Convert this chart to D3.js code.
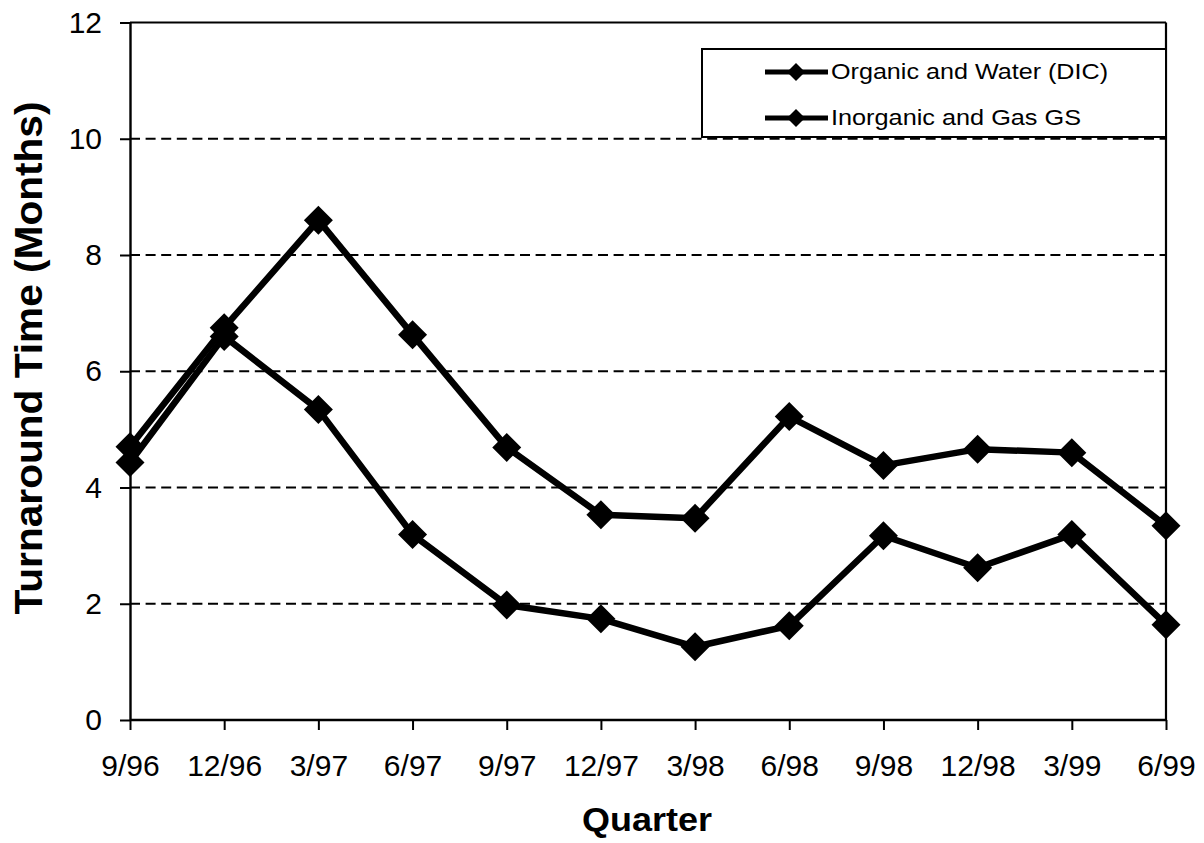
<!DOCTYPE html>
<html>
<head>
<meta charset="utf-8">
<script src="https://cdn.jsdelivr.net/npm/d3@7"></script>
<style>
  html, body { margin: 0; padding: 0; background: #fff; }
  svg { display: block; }
  text { font-family: Arial, "Liberation Sans", sans-serif; fill: #000; }
</style>
</head>
<body>
<svg id="chart" width="1204" height="843"></svg>
<script>
const quarters = ["9/96","12/96","3/97","6/97","9/97","12/97","3/98","6/98","9/98","12/98","3/99","6/99"];
const organicWater = [4.7, 6.75, 8.6, 6.63, 4.69, 3.53, 3.47, 5.22, 4.38, 4.66, 4.6, 3.34];
const inorganicGas = [4.43, 6.6, 5.34, 3.19, 1.98, 1.74, 1.26, 1.62, 3.17, 2.62, 3.19, 1.64];
const seriesNames = ["Organic and Water (DIC)", "Inorganic and Gas GS"];
const yTicks = [0, 2, 4, 6, 8, 10, 12];
const gridTicks = [2, 4, 6, 8, 10];

(function () {
const svg = d3.select("#chart");
const pLeft = 130, pRight = 1166, pTop = 22.5, pBottom = 720;

const x = d3.scalePoint().domain(quarters).range([pLeft, pRight]);
const y = d3.scaleLinear().domain([0, 12]).range([pBottom, pTop]);

// gridlines
svg.append("g").selectAll("line").data(gridTicks).join("line")
  .attr("x1", pLeft).attr("x2", pRight)
  .attr("y1", d => y(d)).attr("y2", d => y(d))
  .attr("stroke", "#000").attr("stroke-width", 2)
  .attr("stroke-dasharray", "10,5.6");

// frame top & right
svg.append("line").attr("x1", pLeft).attr("x2", pRight).attr("y1", y(12)).attr("y2", y(12))
  .attr("stroke", "#000").attr("stroke-width", 2.2);
svg.append("line").attr("x1", pRight).attr("x2", pRight).attr("y1", y(12)).attr("y2", pBottom)
  .attr("stroke", "#000").attr("stroke-width", 2.2);

// y axis
const yAxis = svg.append("g").attr("transform", `translate(${pLeft},0)`)
  .call(d3.axisLeft(y).tickValues(yTicks).tickSize(10).tickSizeOuter(0).tickPadding(18).tickFormat(d3.format("d")));
yAxis.select(".domain").attr("stroke-width", 2.4);
yAxis.selectAll(".tick line").attr("stroke-width", 2);
yAxis.selectAll("text").style("font-size", "30px").attr("font-family", null);

// x axis
const xAxis = svg.append("g").attr("transform", `translate(0,${pBottom})`)
  .call(d3.axisBottom(x).tickSize(10).tickSizeOuter(0).tickPadding(24.5));
xAxis.select(".domain").attr("stroke-width", 2.6).attr("d", `M${pLeft},0H${pRight}`);
xAxis.selectAll(".tick line").attr("stroke-width", 2);
xAxis.selectAll("text").style("font-size", "30px").attr("font-family", null);

// axis titles
svg.append("text")
  .attr("transform", `translate(42,358) rotate(-90)`)
  .attr("text-anchor", "middle")
  .attr("textLength", 513).attr("lengthAdjust", "spacingAndGlyphs")
  .style("font-size", "38px").style("font-weight", "bold")
  .text("Turnaround Time (Months)");
svg.append("text")
  .attr("x", 647).attr("y", 831)
  .attr("text-anchor", "middle")
  .attr("textLength", 130).attr("lengthAdjust", "spacingAndGlyphs")
  .style("font-size", "34px").style("font-weight", "bold")
  .text("Quarter");

// series
const diamond = (h) => `M0,${-h}L${h},0L0,${h}L${-h},0Z`;
const line = d3.line().x((d, i) => x(quarters[i])).y(d => y(d));
[organicWater, inorganicGas].forEach(vals => {
  svg.append("path").datum(vals).attr("d", line)
    .attr("fill", "none").attr("stroke", "#000").attr("stroke-width", 6.5)
    .attr("stroke-linejoin", "round");
  svg.append("g").selectAll("path").data(vals).join("path")
    .attr("transform", (d, i) => `translate(${x(quarters[i])},${y(d)})`)
    .attr("d", diamond(14.5)).attr("fill", "#000");
});

// legend
const lg = svg.append("g");
lg.append("rect").attr("x", 702).attr("y", 49).attr("width", pRight - 702).attr("height", 88)
  .attr("fill", "#fff").attr("stroke", "#000").attr("stroke-width", 2);
const legendY = [72, 118];
const legendLen = [277, 250];
seriesNames.forEach((name, i) => {
  lg.append("line").attr("x1", 765).attr("x2", 828).attr("y1", legendY[i]).attr("y2", legendY[i])
    .attr("stroke", "#000").attr("stroke-width", 5);
  lg.append("path").attr("transform", `translate(796,${legendY[i]})`).attr("d", diamond(9)).attr("fill", "#000");
  lg.append("text").attr("x", 831).attr("y", legendY[i] + 7)
    .attr("textLength", legendLen[i]).attr("lengthAdjust", "spacingAndGlyphs")
    .style("font-size", "22.5px").text(name);
});
})();
</script>
</body>
</html>
